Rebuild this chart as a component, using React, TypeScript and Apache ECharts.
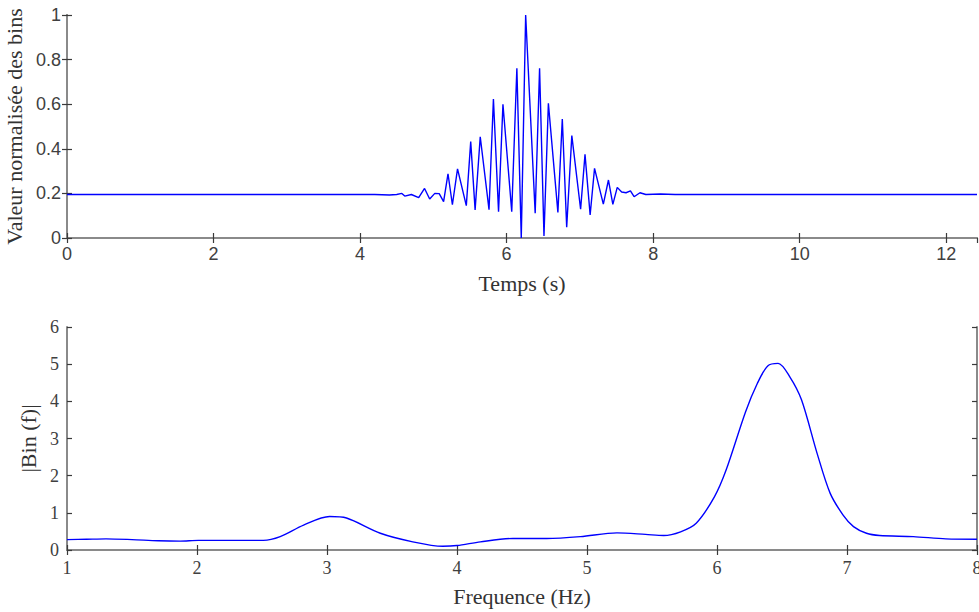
import React, { useEffect, useRef } from "react";
import * as echarts from "echarts";

// Top plot: time (s) vs normalised bin value
const timeS = [
  0, 0.5, 2, 4.2, 4.4, 4.5, 4.57, 4.61, 4.7, 4.8, 4.88, 4.95, 5.02, 5.08, 5.14,
  5.2, 5.26, 5.33, 5.45, 5.51, 5.57, 5.64, 5.76, 5.82, 5.89, 5.95, 6.07, 6.14,
  6.2, 6.26, 6.39, 6.45, 6.51, 6.57, 6.7, 6.76, 6.82, 6.89, 7.01, 7.07, 7.14,
  7.2, 7.32, 7.39, 7.45, 7.51, 7.57, 7.63, 7.69, 7.74, 7.82, 7.9, 8.1, 8.3, 12.42,
];
const binValue = [
  0.195, 0.195, 0.195, 0.195, 0.193, 0.195, 0.2, 0.188, 0.195, 0.181, 0.222,
  0.175, 0.2, 0.199, 0.163, 0.288, 0.149, 0.31, 0.145, 0.432, 0.126, 0.454,
  0.127, 0.623, 0.118, 0.6, 0.118, 0.761, 0, 1.0, 0.111, 0.761, 0.009, 0.604,
  0.115, 0.534, 0.048, 0.459, 0.129, 0.375, 0.103, 0.312, 0.152, 0.26, 0.151,
  0.227, 0.206, 0.203, 0.211, 0.185, 0.203, 0.195, 0.197, 0.195, 0.195,
];

// Bottom plot: frequency (Hz) vs |Bin(f)|
const freqHz = [
  1.0, 1.15, 1.3, 1.5, 1.7, 1.87, 2.01, 2.25, 2.51, 2.64, 2.82, 3.02, 3.15, 3.41,
  3.66, 3.89, 4.0, 4.18, 4.43, 4.69, 4.95, 5.23, 5.45, 5.59, 5.72, 5.84, 5.98,
  6.07, 6.22, 6.31, 6.39, 6.47, 6.56, 6.65, 6.77, 6.87, 6.97, 7.05, 7.15, 7.25,
  7.51, 7.76, 8.0,
];
const binMag = [
  0.28, 0.29, 0.3, 0.28, 0.25, 0.24, 0.26, 0.26, 0.26, 0.36, 0.67, 0.9, 0.86,
  0.45, 0.22, 0.1, 0.12, 0.22, 0.31, 0.31, 0.36, 0.46, 0.42, 0.39, 0.49, 0.72,
  1.43, 2.15, 3.72, 4.48, 4.95, 5.02, 4.66, 4.04, 2.6, 1.53, 0.94, 0.63, 0.45,
  0.39, 0.36, 0.3, 0.29,
];

const topTitleY = "Valeur normalisée des bins";
const topTitleX = "Temps (s)";
const botTitleY = "|Bin (f)|";
const botTitleX = "Frequence (Hz)";

const SANS = "'Liberation Sans', Arial, sans-serif";
const SERIF = "'Liberation Serif', 'Times New Roman', serif";
const AXIS_GRAY = "#8a8a8a";
const TICK_COL = "#3a3a3a";
const TEXT_COL = "#404040";

export default function App() {
  const ref = useRef<HTMLDivElement>(null);

  useEffect(() => {
    document.body.style.margin = "0";
    if (!ref.current) return;
    const chart = echarts.init(ref.current, undefined, { renderer: "svg" });

    const axisLine = { show: true, lineStyle: { color: AXIS_GRAY, width: 2 } };
    const tick = (show = true) => ({
      show,
      inside: true,
      length: 5,
      lineStyle: { color: TICK_COL, width: 1.2 },
    });

    const topData = timeS.map((t, i) => [t, binValue[i]]);
    const botData = freqHz.map((f, i) => [f, binMag[i]]);

    chart.setOption({
      animation: false,
      backgroundColor: "#ffffff",
      grid: [
        { left: 67, top: 15, width: 910, height: 223, outerBoundsMode: "none", containLabel: false },
        { left: 67, top: 327, width: 910, height: 223, outerBoundsMode: "none", containLabel: false },
      ],
      xAxis: [
        {
          type: "value",
          gridIndex: 0,
          min: 0,
          max: 12.42,
          interval: 2,
          position: "bottom",
          axisLine,
          axisTick: tick(),
          splitLine: { show: false },
          axisLabel: {
            showMaxLabel: false,
            margin: 7,
            fontFamily: SANS,
            fontSize: 18,
            color: TEXT_COL,
          },
          name: topTitleX,
          nameLocation: "middle",
          nameGap: 34,
          nameTextStyle: { fontFamily: SERIF, fontSize: 22, color: "#333" },
        },
        {
          type: "value",
          gridIndex: 0,
          min: 0,
          max: 12.42,
          interval: 2,
          position: "top",
          axisLine,
          axisTick: tick(),
          splitLine: { show: false },
          axisLabel: { show: false },
        },
        {
          type: "value",
          gridIndex: 1,
          min: 1,
          max: 8,
          interval: 1,
          position: "bottom",
          axisLine,
          axisTick: tick(),
          splitLine: { show: false },
          axisLabel: {
            margin: 9,
            fontFamily: SERIF,
            fontSize: 18,
            color: TEXT_COL,
          },
          name: botTitleX,
          nameLocation: "middle",
          nameGap: 35,
          nameTextStyle: { fontFamily: SERIF, fontSize: 22, color: "#333" },
        },
        {
          type: "value",
          gridIndex: 1,
          min: 1,
          max: 8,
          interval: 1,
          position: "top",
          axisLine,
          axisTick: tick(),
          splitLine: { show: false },
          axisLabel: { show: false },
        },
      ],
      yAxis: [
        {
          type: "value",
          gridIndex: 0,
          min: 0,
          max: 1,
          interval: 0.2,
          position: "left",
          axisLine,
          axisTick: tick(),
          splitLine: { show: false },
          axisLabel: {
            margin: 6,
            fontFamily: SANS,
            fontSize: 18,
            color: TEXT_COL,
          },
          name: topTitleY,
          nameLocation: "middle",
          nameGap: 32,
          nameTextStyle: { fontFamily: SERIF, fontSize: 22, color: "#333" },
        },
        {
          type: "value",
          gridIndex: 0,
          min: 0,
          max: 1,
          interval: 0.2,
          position: "right",
          axisLine,
          axisTick: tick(),
          splitLine: { show: false },
          axisLabel: { show: false },
        },
        {
          type: "value",
          gridIndex: 1,
          min: 0,
          max: 6,
          interval: 1,
          position: "left",
          axisLine,
          axisTick: tick(),
          splitLine: { show: false },
          axisLabel: {
            margin: 8,
            fontFamily: SERIF,
            fontSize: 18,
            color: TEXT_COL,
          },
          name: botTitleY,
          nameLocation: "middle",
          nameGap: 13,
          nameTextStyle: { fontFamily: SERIF, fontSize: 22, color: "#333" },
        },
        {
          type: "value",
          gridIndex: 1,
          min: 0,
          max: 6,
          interval: 1,
          position: "right",
          axisLine,
          axisTick: tick(),
          splitLine: { show: false },
          axisLabel: { show: false },
        },
      ],
      series: [
        {
          type: "line",
          xAxisIndex: 0,
          yAxisIndex: 0,
          data: topData,
          showSymbol: false,
          lineStyle: { color: "#0000ff", width: 1.4 },
          clip: true,
        },
        {
          type: "line",
          xAxisIndex: 2,
          yAxisIndex: 2,
          data: botData,
          showSymbol: false,
          smooth: 0.3,
          lineStyle: { color: "#0000ff", width: 1.4 },
          clip: true,
        },
      ],
    });

    return () => chart.dispose();
  }, []);

  return <div ref={ref} style={{ width: 979, height: 612 }} />;
}
